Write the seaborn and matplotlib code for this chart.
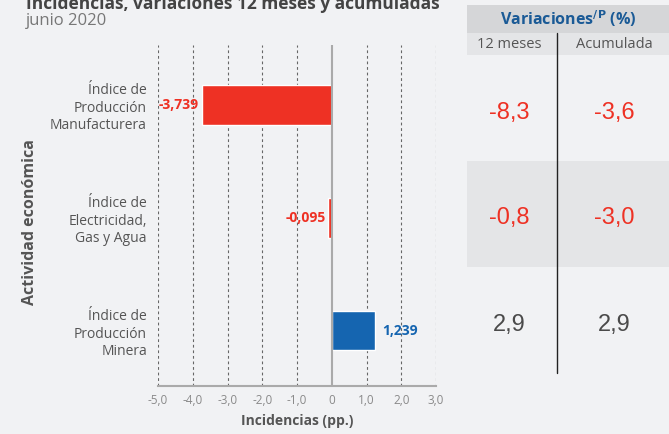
import matplotlib
matplotlib.use("Agg")
import matplotlib.pyplot as plt
import numpy as np
import pandas as pd
import seaborn as sns
from matplotlib.patches import Rectangle

# ── Datos ────────────────────────────────────────────────────────────────
categorias = [
    "Índice de\nProducción\nManufacturera",
    "Índice de\nElectricidad,\nGas y Agua",
    "Índice de\nProducción\nMinera",
]
incidencias = [-3.739, -0.095, 1.239]
var_12_meses = [-8.3, -0.8, 2.9]
var_acumulada = [-3.6, -3.0, 2.9]
ticks_x = [-5, -4, -3, -2, -1, 0, 1, 2, 3]

ROJO = "#ee3124"
AZUL = "#1565b0"
GRIS_TXT = "#555555"
FONDO = "#f1f2f4"


def coma(v, dec=1):
    if v == 0:
        return "0"
    return f"{v:.{dec}f}".replace(".", ",")


def color_valor(v):
    return ROJO if v < 0 else "#4a4a4a"


sns.set_theme(style="white")
plt.rcParams["font.family"] = ["Open Sans", "DejaVu Sans"]

W, H = 669, 434
fig = plt.figure(figsize=(W / 100, H / 100), dpi=100, facecolor=FONDO)

# ── Gráfico de barras ────────────────────────────────────────────────────
ax = fig.add_axes([158 / W, 1 - 386 / H, (436 - 158) / W, (386 - 45) / H])
ax.set_facecolor(FONDO)

df = pd.DataFrame({"Actividad": categorias, "Incidencia": incidencias})
colores = [AZUL if v > 0 else ROJO for v in incidencias]
sns.barplot(data=df, x="Incidencia", y="Actividad", hue="Actividad",
            palette=colores, legend=False, width=0.35, orient="h",
            saturation=1, ax=ax, zorder=3)

ax.set_xlim(-5, 3)
ax.set_ylim(2.49, -0.53)
ax.set_xticks(ticks_x)
ax.set_xticklabels([coma(t) for t in ticks_x], fontsize=8.5, color="#8a8a8a")
for t in ticks_x:
    if t == 0:
        ax.axvline(0, color="#aaaaaa", lw=1.5, zorder=4)
    else:
        ax.axvline(t, color="#666666", lw=0.8, ls=(0, (2.5, 2.5)), zorder=1)

for s in ["top", "right", "left"]:
    ax.spines[s].set_visible(False)
ax.spines["bottom"].set_color("#aaaaaa")
ax.spines["bottom"].set_linewidth(1.5)
ax.tick_params(axis="x", length=0, pad=6)
ax.tick_params(axis="y", length=0, pad=8)
for lab in ax.get_yticklabels():
    lab.set_fontsize(10)
    lab.set_color(GRIS_TXT)
    lab.set_horizontalalignment("right")
    lab.set_linespacing(1.25)

ax.set_xlabel("Incidencias (pp.)", fontsize=10, fontweight="bold",
              color=GRIS_TXT, labelpad=5)
ax.set_ylabel("")
fig.text(30 / W, 1 - 222 / H, "Actividad económica", rotation=90,
         fontsize=11.5, fontweight="bold", color=GRIS_TXT,
         ha="center", va="center")

for i, v in enumerate(incidencias):
    txt = f"{v:.3f}".replace(".", ",")
    if v < 0:
        ax.text(v - 0.08, i, txt, ha="right", va="center", fontsize=10,
                fontweight="bold", color=ROJO, zorder=5)
    else:
        ax.text(v + 0.2, i, txt, ha="left", va="center", fontsize=10,
                fontweight="bold", color=AZUL, zorder=5)

# ── Títulos ─────────────────────────────────────────────────────────────
fig.text(26 / W, 1 - 4 / H, "Incidencias, variaciones 12 meses y acumuladas",
         fontsize=12.5, fontweight="bold", color="#444444", va="center")
fig.text(26 / W, 1 - 21 / H, "junio 2020", fontsize=12, color="#777777",
         va="center")

# ── Tabla de variaciones ────────────────────────────────────────────────
tab = fig.add_axes([0, 0, 1, 1], facecolor="none")
tab.set_xlim(0, W)
tab.set_ylim(H, 0)
tab.axis("off")

x0, x1, xm = 467, 669, 557
tab.add_patch(Rectangle((x0, 5), x1 - x0, 28, color="#d5d6d8", lw=0))
tab.add_patch(Rectangle((x0, 33), x1 - x0, 22, color="#e4e5e7", lw=0))
tab.add_patch(Rectangle((x0, 161), x1 - x0, 106, color="#e4e5e7", lw=0))
tab.plot([xm, xm], [33, 373], color="#222222", lw=1)

tab.text((x0 + x1) / 2, 19, r"Variaciones$^{\mathbf{/P}}$ (%)", ha="center",
         va="center", fontsize=11.5, fontweight="bold", color="#1a5a96")
tab.text(509, 45, "12 meses", ha="center", va="center", fontsize=10.5,
         color=GRIS_TXT)
tab.text(614, 45, "Acumulada", ha="center", va="center", fontsize=10.5,
         color=GRIS_TXT)

filas_y = [113, 218, 325]
for y, a, b in zip(filas_y, var_12_meses, var_acumulada):
    tab.text(509, y, coma(a), ha="center", va="center", fontsize=17,
             color=color_valor(a), family="Liberation Sans")
    tab.text(614, y, coma(b), ha="center", va="center", fontsize=17,
             color=color_valor(b), family="Liberation Sans")

fig.savefig("out.png", dpi=100, facecolor=FONDO)
